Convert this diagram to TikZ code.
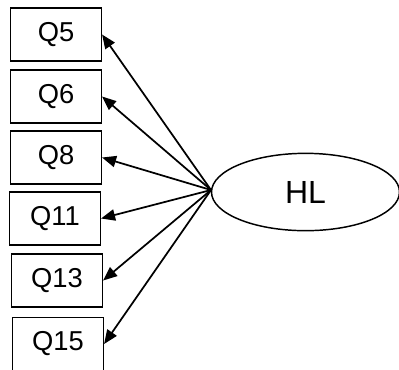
\documentclass[tikz,border=0pt]{standalone}
\usepackage{fontspec}
\setmainfont{Liberation Sans}
\usetikzlibrary{arrows.meta,shapes.geometric}
\begin{document}
\begin{tikzpicture}[x=0.75pt,y=-0.75pt,
  item/.style={draw,line width=1.1pt,minimum width=68pt,minimum height=39.5pt,inner sep=0pt,font=\fontsize{20.5}{24}\selectfont},
  latent/.style={ellipse,draw,line width=1.1pt,minimum width=141pt,minimum height=58pt,inner sep=0pt,font=\fontsize{24}{28}\selectfont},
  load/.style={line width=1.3pt,-{Triangle[length=10.5pt,width=8.5pt]}}]
\useasboundingbox (0,0) rectangle (399,369);
\node[item] (q5)  at (56,34.5) {Q5};
\node[item] (q6)  at (56,96.5) {Q6};
\node[item] (q8)  at (56,157.5) {Q8};
\node[item] (q11) at (55,218.5) {Q11};
\node[item] (q13) at (57,280.5) {Q13};
\node[item] (q15) at (58,344) {Q15};
\node[latent] (hl) at (305.5,192) {HL};
\coordinate (apex) at (211,190);
\foreach \q in {q5,q6,q8,q11,q13,q15}
  \draw[load] (apex) -- (\q.east);
\end{tikzpicture}
\end{document}
